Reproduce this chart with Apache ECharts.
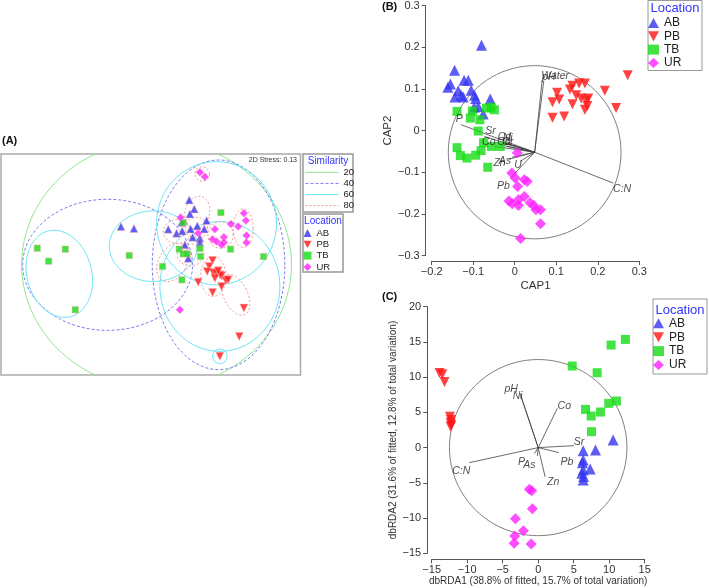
<!DOCTYPE html>
<html><head><meta charset="utf-8">
<script src="https://cdn.jsdelivr.net/npm/echarts@6/dist/echarts.min.js"></script>
<style>html,body{margin:0;padding:0;background:#fff}#c{width:709px;height:588px}</style>
</head><body><div id="c"></div>
<script>
// ---------- shared ----------
const groups = ['AB', 'PB', 'TB', 'UR'];
const groupColors = ['#3535f0', '#ff1414', '#14dc14', '#ff22ff'];
const groupSymbols = ['triangle', 'path://M0,0L10,0L5,9Z', 'rect', 'diamond'];

// ---------- Panel A: nMDS ordination (unitless) ----------
const nmdsAB = [[-0.87,1.14],[-0.48,1.08],[1.18,1.94],[1.33,1.67],[1.20,1.52],[0.95,1.26],[0.55,1.06],[0.80,0.94],[0.97,1.01],[1.22,1.07],[1.42,1.16],[1.63,1.07],[1.70,1.32],[1.28,0.82],[1.50,0.79],[1.50,0.66],[1.05,0.59],[1.15,0.19]];
const nmdsPB = [[1.88,0.12],[1.78,-0.06],[1.72,-0.21],[1.90,-0.24],[2.00,-0.26],[2.10,-0.31],[1.95,-0.41],[2.15,-0.34],[2.28,-0.48],[2.35,-0.46],[2.15,-0.66],[1.45,-0.53],[1.88,-0.84],[2.82,-1.31],[2.68,-2.16],[2.10,-2.76],[2.05,-0.19]];
const nmdsTB = [[-3.38,0.49],[-2.54,0.46],[-3.04,0.10],[-2.24,-1.36],[-0.62,0.27],[0.38,-0.06],[0.96,-0.46],[1.00,1.26],[0.88,0.46],[1.00,0.32],[1.12,0.32],[1.50,0.48],[1.52,0.24],[2.13,1.56],[2.42,0.46],[3.41,0.24]];
const nmdsUR = [[1.50,2.77],[1.65,2.64],[2.82,1.54],[2.88,1.32],[2.43,1.22],[2.65,1.14],[1.95,1.06],[0.92,1.41],[1.45,0.94],[1.88,0.76],[2.00,0.69],[2.22,0.82],[2.22,0.66],[2.15,0.59],[2.90,0.87],[2.90,0.66],[0.90,-1.36]];
const similarityLevels = ['20', '40', '60', '80'];
// similarity contours: [centreX, centreY, radiusX, radiusY, tiltDeg]
const sim20 = [[0.20,0.00,4.05,3.73,0]];
const sim40 = [[-1.27,-0.01,2.55,1.97,0],[2.06,-0.01,1.99,3.15,0]];
const sim60 = [[-2.72,-0.28,0.97,1.33,15],[0.10,0.55,1.32,1.06,0],[2.00,1.24,1.80,1.85,0],[2.10,-0.66,1.80,1.95,0],[2.10,-2.76,0.22,0.22,0]];
const sim80 = [[1.42,1.56,0.37,0.50,-15],[0.82,0.99,0.42,0.36,0],[1.40,1.09,0.33,0.33,0],[2.12,0.89,0.38,0.40,0],[2.80,1.09,0.30,0.58,0],[1.57,2.72,0.22,0.22,0],[0.68,0.06,0.42,0.62,-30],[1.90,-0.36,0.38,0.60,0],[2.57,-0.91,0.36,0.66,25],[1.22,0.29,0.40,0.33,0]];
const stressText = '2D Stress: 0.13';

// ---------- Panel B: CAP ----------
const capAB = [[-0.080,0.205],[-0.145,0.145],[-0.155,0.112],[-0.161,0.104],[-0.122,0.121],[-0.112,0.121],[-0.136,0.096],[-0.129,0.085],[-0.144,0.081],[-0.124,0.081],[-0.105,0.097],[-0.097,0.085],[-0.094,0.077],[-0.088,0.058],[-0.098,0.056],[-0.059,0.076],[-0.076,0.040]];
const capPB = [[0.102,0.091],[0.107,0.075],[0.091,0.068],[0.091,0.031],[0.119,0.034],[0.139,0.063],[0.139,0.108],[0.155,0.113],[0.169,0.113],[0.148,0.085],[0.160,0.077],[0.172,0.072],[0.177,0.077],[0.175,0.059],[0.169,0.050],[0.217,0.096],[0.244,0.054],[0.272,0.133],[0.133,0.099]];
const capTB = [[-0.139,0.046],[-0.102,0.047],[-0.107,0.030],[-0.084,0.026],[-0.068,0.054],[-0.057,0.056],[-0.049,0.050],[-0.088,-0.001],[-0.139,-0.041],[-0.131,-0.060],[-0.115,-0.066],[-0.094,-0.059],[-0.081,-0.048],[-0.075,-0.029],[-0.056,-0.038],[-0.035,-0.038],[-0.065,-0.088]];
const capUR = [[0.006,-0.053],[-0.007,-0.102],[0.001,-0.114],[0.023,-0.118],[0.030,-0.122],[0.007,-0.134],[-0.014,-0.169],[-0.006,-0.176],[0.009,-0.166],[0.023,-0.158],[0.009,-0.180],[0.037,-0.173],[0.046,-0.180],[0.051,-0.190],[0.062,-0.190],[0.062,-0.224],[0.014,-0.259]];
const capVarNames = ['P','Sr','Cd','Ni','Co','Cu','Cr','Zn','As','U','Pb','Water','pH','C:N'];
const capVarX = [-0.129,-0.073,-0.025,-0.022,-0.048,-0.031,-0.019,-0.015,-0.007,0.013,-0.003,0.066,0.070,0.237];
const capVarY = [0.014,-0.014,-0.029,-0.032,-0.038,-0.035,-0.038,-0.069,-0.064,-0.074,-0.106,0.121,0.120,-0.126];
const capOrigin = [0.048, -0.052];
const capCircleR = 0.208;
const capXTicks = [-0.2, 0.3, 0.1];
const capYTicks = [-0.3, 0.3, 0.1];

// ---------- Panel C: dbRDA ----------
const rdaAB = [[10.55,1.09],[6.34,-0.43],[8.07,-0.33],[6.34,-1.76],[6.24,-2.14],[6.34,-3.18],[7.32,-3.04],[6.15,-3.65],[6.34,-4.60],[6.40,-4.10]];
const rdaPB = [[-13.9,10.6],[-13.5,10.4],[-13.2,9.3],[-12.43,4.39],[-12.29,3.92],[-12.33,3.54],[-12.24,3.21],[-12.33,2.97]];
const rdaTB = [[4.79,11.58],[10.27,14.56],[12.28,15.36],[8.30,10.63],[6.67,5.43],[7.46,4.48],[8.77,5.05],[9.94,6.28],[11.02,6.61],[7.51,2.26]];
const rdaUR = [[-1.24,-5.92],[-0.91,-6.11],[-0.82,-8.67],[-3.21,-10.09],[-3.30,-12.55],[-2.08,-11.79],[-3.39,-13.59],[-1.00,-13.68]];
const rdaVarNames = ['pH','Ni','Co','Sr','Pb','Zn','As','P','C:N'];
const rdaVarX = [-2.55,-2.46,2.69,5.03,2.92,0.98,-0.12,-0.52,-9.71];
const rdaVarY = [7.70,7.37,5.57,0.28,-0.71,-4.16,-1.18,-0.85,-2.14];
const rdaOrigin = [0, 0];
const rdaCircleR = 12.5;
const rdaXTicks = [-15, 15, 5];
const rdaYTicks = [-15, 20, 5];

// ---------- styling (not data) ----------
const FONT = '"Liberation Sans", Arial, Helvetica, sans-serif';
const capLabelOffsets = [[-2,-6],[6,-5],[0,-6],[2,-6],[-6,-4],[2,-3],[1,-4],[-9,4],[-7,4],[-2,4],[-10,11],[13,-4],[5,-4],[9,6]];
const rdaLabelOffsets = [[-9,-4],[-3,0],[7,-2],[5,-4],[8,9],[8,5],[-8,9],[-13,8],[-8,8]];
const simStyles = {
  '20': {color:'#8de88d', type:'solid'},
  '40': {color:'#7b7bf3', type:[3,2]},
  '60': {color:'#6de6f6', type:'solid'},
  '80': {color:'#f59999', type:[2,2]}
};

function ellipse(p) {
  const [cx, cy, rx, ry, deg] = p;
  const a = deg * Math.PI / 180, pts = [];
  for (let i = 0; i <= 96; i++) {
    const t = i / 96 * 2 * Math.PI;
    const x = rx * Math.cos(t), y = ry * Math.sin(t);
    pts.push([cx + x * Math.cos(a) - y * Math.sin(a), cy + x * Math.sin(a) + y * Math.cos(a)]);
  }
  return pts;
}
const minusFmt = d => v => {
  const r = Math.round(v * Math.pow(10, d)) / Math.pow(10, d);
  return (r < 0 ? '\u2212' : '') + Math.abs(r).toFixed(r === 0 ? 0 : d);
};

const series = [];
// Panel A contours
[['20', sim20], ['40', sim40], ['60', sim60], ['80', sim80]].forEach(([lvl, list]) => {
  list.forEach(p => series.push({
    type: 'line', name: lvl, xAxisIndex: 0, yAxisIndex: 0, data: ellipse(p),
    symbol: 'none', silent: true, z: 1, clip: true,
    lineStyle: {color: simStyles[lvl].color, width: 1, type: simStyles[lvl].type},
    itemStyle: {color: simStyles[lvl].color}
  }));
});
// scatter series per panel
const panels = [
  {ax: 0, data: [nmdsAB, nmdsPB, nmdsTB, nmdsUR], sizes: [8, 8, 6.5, 8], halo: true},
  {ax: 1, data: [capAB, capPB, capTB, capUR], sizes: [11, 10, 9, 11], halo: false},
  {ax: 2, data: [rdaAB, rdaPB, rdaTB, rdaUR], sizes: [11, 10, 9, 11], halo: false}
];
panels.forEach(pn => {
  groups.forEach((g, i) => series.push({
    type: 'scatter', name: g, xAxisIndex: pn.ax, yAxisIndex: pn.ax, data: pn.data[i],
    symbol: groupSymbols[i], symbolSize: pn.sizes[i], z: 4,
    itemStyle: pn.halo ? {color: groupColors[i], borderColor: 'rgba(255,175,175,0.7)', borderWidth: 0.8}
                       : {color: groupColors[i]}
  }));
});
// biplot circles, vectors and labels
function biplot(ax, origin, r, names, xs, ys, offs) {
  series.push({
    type: 'line', xAxisIndex: ax, yAxisIndex: ax, data: ellipse([origin[0], origin[1], r, r, 0]),
    symbol: 'none', silent: true, z: 2, lineStyle: {color: '#808080', width: 1}
  });
  series.push({
    type: 'lines', coordinateSystem: 'cartesian2d', xAxisIndex: ax, yAxisIndex: ax, silent: true, z: 2,
    lineStyle: {color: '#444', width: 0.8, opacity: 1},
    data: names.map((n, i) => ({coords: [origin, [xs[i], ys[i]]]}))
  });
  series.push({
    type: 'scatter', xAxisIndex: ax, yAxisIndex: ax, symbolSize: 0, silent: true, z: 5,
    label: {show: true, formatter: '{b}', position: 'inside', fontStyle: 'italic', fontSize: 10.5,
            color: '#222', fontFamily: FONT},
    data: names.map((n, i) => ({name: n, value: [xs[i], ys[i]], label: {offset: offs[i]}}))
  });
}
biplot(1, capOrigin, capCircleR, capVarNames, capVarX, capVarY, capLabelOffsets);
biplot(2, rdaOrigin, rdaCircleR, rdaVarNames, rdaVarX, rdaVarY, rdaLabelOffsets);

const axisCommon = {
  type: 'value', splitLine: {show: false},
  axisLine: {show: true, onZero: false, lineStyle: {color: '#555', width: 1}},
  axisTick: {show: true, length: 4, lineStyle: {color: '#555'}},
  axisLabel: {color: '#333', fontSize: 11, fontFamily: FONT},
  nameLocation: 'middle', nameTextStyle: {color: '#333', fontFamily: FONT}
};

const legendCommon = {orient: 'vertical', padding: 0, selectedMode: false,
  itemStyle: {borderWidth: 0}, textStyle: {fontFamily: FONT, color: '#222'}};

const option = {
  animation: false,
  backgroundColor: '#fff',
  grid: [
    {left: 1, top: 154, width: 299.5, height: 221, show: true, borderColor: '#aaa', borderWidth: 1.5, containLabel: false},
    {left: 431.7, top: 5.7, width: 207.6, height: 249.8},
    {left: 431.7, top: 306.7, width: 213, height: 246.6}
  ],
  xAxis: [
    {type: 'value', gridIndex: 0, min: -4.47, max: 4.52, show: false},
    Object.assign({}, axisCommon, {gridIndex: 1, min: capXTicks[0], max: capXTicks[1], interval: capXTicks[2], offset: 5.5,
      name: 'CAP1', nameGap: 19, nameTextStyle: {color: '#333', fontFamily: FONT, fontSize: 11.5},
      axisLabel: Object.assign({}, axisCommon.axisLabel, {margin: 5, formatter: minusFmt(1)})}),
    Object.assign({}, axisCommon, {gridIndex: 2, min: rdaXTicks[0], max: rdaXTicks[1], interval: rdaXTicks[2], offset: 6,
      name: 'dbRDA1 (38.8% of fitted, 15.7% of total variation)', nameGap: 17,
      nameTextStyle: {color: '#333', fontFamily: FONT, fontSize: 10},
      axisLabel: Object.assign({}, axisCommon.axisLabel, {margin: 5, formatter: minusFmt(0)})})
  ],
  yAxis: [
    {type: 'value', gridIndex: 0, min: -3.32, max: 3.32, show: false},
    Object.assign({}, axisCommon, {gridIndex: 1, min: capYTicks[0], max: capYTicks[1], interval: capYTicks[2], offset: 6,
      name: 'CAP2', nameGap: 21, nameRotate: 90, nameTextStyle: {color: '#333', fontFamily: FONT, fontSize: 11.5},
      axisLabel: Object.assign({}, axisCommon.axisLabel, {margin: 6, formatter: minusFmt(1)})}),
    Object.assign({}, axisCommon, {gridIndex: 2, min: rdaYTicks[0], max: rdaYTicks[1], interval: rdaYTicks[2], offset: 4.5,
      name: 'dbRDA2 (31.6% of fitted, 12.8% of total variation)', nameGap: 23.5, nameRotate: 90,
      nameTextStyle: {color: '#333', fontFamily: FONT, fontSize: 10},
      axisLabel: Object.assign({}, axisCommon.axisLabel, {margin: 6, formatter: minusFmt(0)})})
  ],
  legend: [
    Object.assign({}, legendCommon, {data: similarityLevels, left: 305, top: 166.8, itemWidth: 33, itemHeight: 8, itemGap: 0.1,
      itemStyle: {opacity: 0, borderWidth: 0}, lineStyle: {width: 1},
      textStyle: {fontFamily: FONT, color: '#222', fontSize: 9.5, lineHeight: 11}}),
    Object.assign({}, legendCommon, {data: groups, left: 303.5, top: 227.5, itemWidth: 8, itemHeight: 8, itemGap: 0.3,
      textStyle: {fontFamily: FONT, color: '#222', fontSize: 9.5, lineHeight: 11}}),
    Object.assign({}, legendCommon, {data: groups, left: 648, top: 16.5, itemWidth: 11, itemHeight: 10, itemGap: 0.3,
      textStyle: {fontFamily: FONT, color: '#222', fontSize: 12, lineHeight: 13}}),
    Object.assign({}, legendCommon, {data: groups, left: 653, top: 316.8, itemWidth: 11, itemHeight: 10, itemGap: 0.9,
      textStyle: {fontFamily: FONT, color: '#222', fontSize: 12, lineHeight: 13}})
  ],
  graphic: [
    {type: 'rect', shape: {x: 303, y: 154, width: 50, height: 58}, style: {fill: 'none', stroke: '#999', lineWidth: 1.5}},
    {type: 'rect', shape: {x: 303, y: 214, width: 40, height: 58}, style: {fill: 'none', stroke: '#999', lineWidth: 1.5}},
    {type: 'rect', shape: {x: 648, y: 0.5, width: 54, height: 70}, style: {fill: 'none', stroke: '#999', lineWidth: 1}},
    {type: 'rect', shape: {x: 653, y: 299, width: 54, height: 75}, style: {fill: 'none', stroke: '#999', lineWidth: 1}},
    {type: 'text', x: 328, y: 161, style: {text: 'Similarity', fill: '#3333ff', font: '10px ' + FONT, align: 'center', verticalAlign: 'middle'}},
    {type: 'text', x: 323, y: 221, style: {text: 'Location', fill: '#3333ff', font: '10px ' + FONT, align: 'center', verticalAlign: 'middle'}},
    {type: 'text', x: 675, y: 8.5, style: {text: 'Location', fill: '#3333ff', font: '13px ' + FONT, align: 'center', verticalAlign: 'middle'}},
    {type: 'text', x: 680, y: 310, style: {text: 'Location', fill: '#3333ff', font: '13px ' + FONT, align: 'center', verticalAlign: 'middle'}},
    {type: 'text', x: 297, y: 160, style: {text: stressText, fill: '#333', font: '7px ' + FONT, align: 'right', verticalAlign: 'middle'}},
    {type: 'text', x: 2, y: 141, style: {text: '(A)', fill: '#111', font: 'bold 11px ' + FONT, align: 'left', verticalAlign: 'middle'}},
    {type: 'text', x: 382, y: 7, style: {text: '(B)', fill: '#111', font: 'bold 11px ' + FONT, align: 'left', verticalAlign: 'middle'}},
    {type: 'text', x: 382, y: 297, style: {text: '(C)', fill: '#111', font: 'bold 11px ' + FONT, align: 'left', verticalAlign: 'middle'}}
  ],
  series: series
};
const chart = echarts.init(document.getElementById('c'));
chart.setOption(option);
</script>
</body></html>
